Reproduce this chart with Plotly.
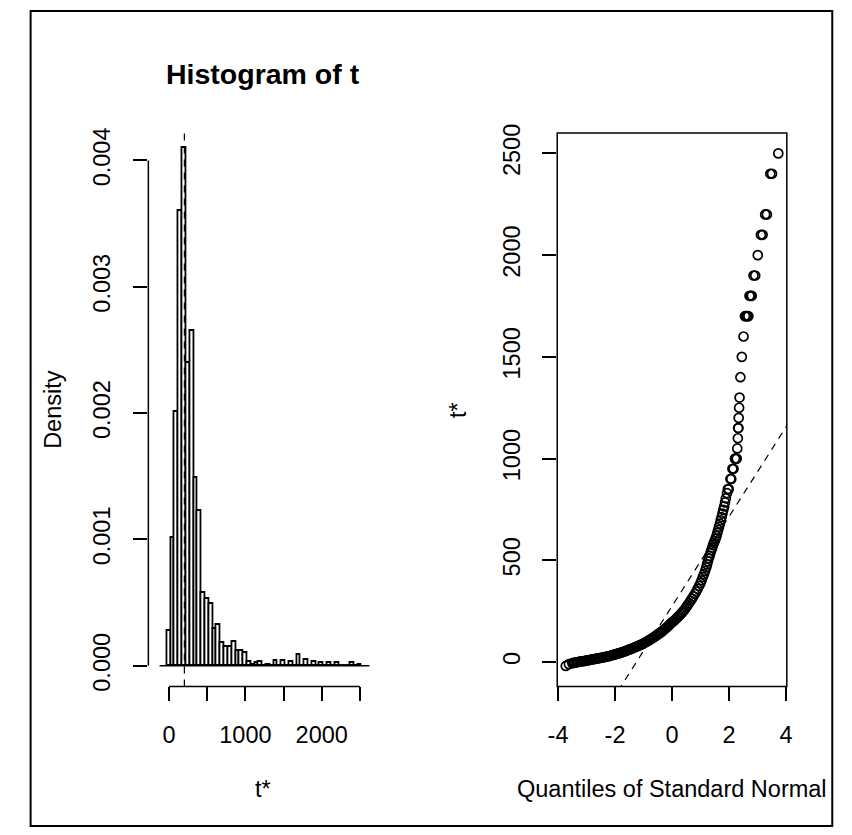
import plotly.graph_objects as go

W, H = 852, 835

# ---------------- data ----------------
# histogram of bootstrap replicates t* (bin centres, width 50) and densities
bin_centers = [0, 50, 100, 150, 200, 250, 300, 350, 400, 450, 500, 550, 600, 650, 700,
               750, 800, 850, 900, 950, 1000, 1050, 1100, 1150, 1200, 1250, 1300, 1350,
               1400, 1450, 1500, 1550, 1600, 1650, 1700, 1750, 1800, 1850, 1900, 1950,
               2000, 2050, 2100, 2150, 2200, 2250, 2300, 2350, 2400, 2450, 2500]
densities = [0.00028, 0.00101, 0.00201, 0.0036, 0.0041, 0.0024, 0.00265, 0.00149, 0.00123,
             0.00058, 0.00053, 0.00049, 0.00029, 0.00032, 0.00018, 0.00015, 0.00015, 0.00019,
             0.00012, 0.00012, 0.00010, 0.00003, 0.00001, 0.00002, 0.00003, 0.0, 0.00001, 0.0,
             0.00004, 0.0, 0.00004, 0.0, 0.00003, 0.0, 0.00009, 0.0, 0.00005, 0.0, 0.00003, 0.0,
             0.00002, 0.0, 0.00002, 0.0, 0.00002, 0.0, 0.0, 0.0, 0.00002, 0.0, 0.00001]
bin_width = 50
bin_breaks = [-125, 2625]
t0 = 200

# QQ plot: theoretical normal quantiles vs ordered t*
qq_theo = [-3.73, -3.62, -3.50, -3.45, -3.40, -3.35, -3.30, -3.25, -3.20, -3.15, -3.10, -3.05,
           -3.00, -2.95, -2.90, -2.85, -2.80, -2.75, -2.70, -2.65, -2.60, -2.55, -2.50, -2.45,
           -2.40, -2.35, -2.30, -2.25, -2.20, -2.15, -2.10, -2.05, -2.00, -1.95, -1.90, -1.85,
           -1.80, -1.75, -1.70, -1.65, -1.60, -1.55, -1.50, -1.45, -1.40, -1.35, -1.30, -1.25,
           -1.20, -1.15, -1.10, -1.05, -1.00, -0.95, -0.90, -0.85, -0.80, -0.75, -0.70, -0.65,
           -0.60, -0.55, -0.50, -0.45, -0.40, -0.35, -0.30, -0.25, -0.20, -0.15, -0.10, -0.05,
           0.00, 0.05, 0.10, 0.15, 0.20, 0.25, 0.30, 0.35, 0.40, 0.45, 0.50, 0.55,
           0.60, 0.65, 0.70, 0.75, 0.80, 0.85, 0.90, 0.95, 1.00, 1.04, 1.08, 1.12,
           1.16, 1.20, 1.23, 1.26, 1.29, 1.32, 1.35, 1.38, 1.41, 1.44, 1.47, 1.50,
           1.53, 1.56, 1.59, 1.62, 1.65, 1.68, 1.71, 1.74, 1.77, 1.80, 1.83, 1.86,
           1.89, 1.93, 1.96, 1.99, 2.05, 2.08, 2.12, 2.16, 2.21, 2.24, 2.27,
           2.29, 2.31, 2.32, 2.33, 2.34, 2.355, 2.37, 2.40, 2.45, 2.51, 2.56, 2.60, 2.64, 2.68,
           2.72, 2.76, 2.80, 2.86, 2.92, 3.01, 3.12, 3.18, 3.27, 3.33, 3.45, 3.51, 3.73]
qq_vals = [-19, -10, -5, -4, -2, -1, 0, 2, 3, 4, 5, 6,
           8, 9, 10, 12, 13, 14, 16, 17, 18, 20, 21, 22,
           24, 25, 27, 28, 30, 32, 34, 36, 38, 40, 42, 44,
           46, 48, 51, 53, 56, 59, 62, 64, 67, 70, 73, 76,
           79, 82, 85, 88, 92, 96, 100, 104, 108, 112, 117, 121,
           126, 131, 136, 141, 146, 151, 157, 163, 169, 175, 182, 189,
           196, 201, 207, 214, 221, 228, 235, 243, 251, 260, 270, 280,
           290, 301, 312, 323, 335, 347, 360, 374, 388, 402, 418, 432,
           448, 465, 480, 495, 510, 522, 537, 550, 562, 575, 586, 596,
           607, 620, 635, 650, 665, 680, 697, 712, 730, 748, 765, 785,
           805, 830, 850, 850, 900, 900, 950, 950, 1000, 1000, 1000,
           1050, 1100, 1150, 1150, 1200, 1250, 1300, 1400, 1500, 1600, 1700, 1700, 1700, 1700,
           1800, 1800, 1800, 1900, 1900, 2000, 2100, 2100, 2200, 2200, 2400, 2400, 2500]
t_mean = 275
t_sd = 220

hist_xticks = [0, 500, 1000, 1500, 2000, 2500]
hist_xlabels = ["0", "", "1000", "", "2000", ""]
hist_yticks = [0, 0.001, 0.002, 0.003, 0.004]
hist_ylabels = ["0.000", "0.001", "0.002", "0.003", "0.004"]
qq_xticks = [-4, -2, 0, 2, 4]
qq_yticks = [0, 500, 1000, 1500, 2000, 2500]

# ---------------- layout helpers ----------------
def fx(p):
    return p / W

def fy(p):
    return 1 - p / H

FONT = "Liberation Sans, Arial, sans-serif"
FS = 23.5
LW = 1.5

fig = go.Figure()

# histogram bars
fig.add_trace(go.Bar(
    x=bin_centers, y=densities, width=bin_width,
    marker=dict(color="white", line=dict(color="black", width=1.8)),
    xaxis="x", yaxis="y", showlegend=False, hoverinfo="skip"))

# QQ points
fig.add_trace(go.Scatter(
    x=qq_theo, y=qq_vals, mode="markers",
    marker=dict(symbol="circle-open", size=9, color="black", line=dict(width=1.7, color="black")),
    xaxis="x2", yaxis="y2", showlegend=False, hoverinfo="skip", cliponaxis=False))

# reference line mean + sd*q
qx = [-4.1, 4.1]
fig.add_trace(go.Scatter(
    x=qx, y=[t_mean + t_sd * q for q in qx], mode="lines",
    line=dict(color="black", width=1.2, dash="7px,6px"),
    xaxis="x2", yaxis="y2", showlegend=False, hoverinfo="skip"))

ydom = [fy(689), fy(126)]

ax_common = dict(showgrid=False, zeroline=False, showline=False, ticks="outside",
                 ticklen=14, tickwidth=LW, tickcolor="black",
                 tickfont=dict(family=FONT, size=FS, color="black"))

vmin, vmax = min(qq_vals), max(qq_vals)
ext = 0.04 * (vmax - vmin)

fig.update_layout(
    width=W, height=H, margin=dict(l=0, r=0, t=0, b=0),
    paper_bgcolor="white", plot_bgcolor="white", bargap=0,
    xaxis=dict(domain=[fx(141), fx(375)], range=[-272, 2737], ticklabelstandoff=13,
               tickvals=hist_xticks, ticktext=hist_xlabels, anchor="y", **ax_common),
    yaxis=dict(domain=ydom, range=[-0.0001634, 0.004218], ticklabelstandoff=14,
               tickvals=hist_yticks, ticktext=hist_ylabels, tickangle=-90, anchor="x", **ax_common),
    xaxis2=dict(domain=[fx(557.7), fx(791.7)], range=[-4.03, 4.03], ticklabelstandoff=13,
                tickvals=qq_xticks, ticktext=[str(v) for v in qq_xticks], anchor="y2", **ax_common),
    yaxis2=dict(domain=ydom, range=[vmin - ext, vmax + ext], ticklabelstandoff=13,
                tickvals=qq_yticks, ticktext=[str(v) for v in qq_yticks], tickangle=-90,
                anchor="x2", **ax_common),
)

shapes = []
# left panel axis lines (span tick range only, like R)
shapes.append(dict(type="line", xref="x", yref="y domain", x0=hist_xticks[0], x1=hist_xticks[-1],
                   y0=0, y1=0, line=dict(color="black", width=LW)))
shapes.append(dict(type="line", xref="x domain", yref="y", x0=0, x1=0,
                   y0=hist_yticks[0], y1=hist_yticks[-1], line=dict(color="black", width=LW)))
# histogram baseline over full break range
shapes.append(dict(type="line", xref="x", yref="y", x0=bin_breaks[0], x1=bin_breaks[1],
                   y0=0, y1=0, line=dict(color="black", width=1.4)))
# t0 dashed line
shapes.append(dict(type="line", xref="x", yref="y domain", x0=t0, x1=t0, y0=0, y1=1,
                   line=dict(color="black", width=1.2, dash="7px,6px")))
# right panel box
shapes.append(dict(type="rect", xref="x2 domain", yref="y2 domain", x0=0, x1=1, y0=0, y1=1,
                   line=dict(color="black", width=LW)))
# outer frame
shapes.append(dict(type="rect", xref="paper", yref="paper", x0=fx(21), x1=fx(838),
                   y0=fy(831), y1=fy(2), line=dict(color="black", width=2)))
fig.update_layout(shapes=shapes)

ann = []
def text(x, y, s, size=FS, angle=0, bold=False):
    ann.append(dict(x=fx(x), y=fy(y), xref="paper", yref="paper", text=("<b>%s</b>" % s) if bold else s,
                    showarrow=False, textangle=angle, xanchor="center", yanchor="middle",
                    font=dict(family=FONT, size=size, color="black")))

text(258, 66, "Histogram of t", size=28.5, bold=True)
text(258, 793, "t*")
text(674.7, 793, "Quantiles of Standard Normal")
text(43, 407.5, "Density", angle=-90)
text(456, 407.5, "t*", angle=-90)
fig.update_layout(annotations=ann)

fig.write_html("out.html")
